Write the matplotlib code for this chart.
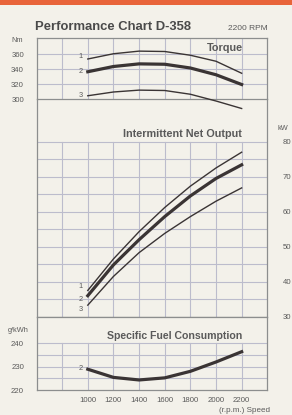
import matplotlib
matplotlib.use("Agg")
import matplotlib.pyplot as plt

# ---- data ----
rpm = [1000, 1200, 1400, 1600, 1800, 2000, 2200]
torque_1 = [354, 361, 364.5, 364, 359, 351, 335]
torque_2 = [337, 344, 347.5, 347, 342, 333, 320]
torque_3 = [305, 310, 312.5, 312, 307, 298, 288]
power_1 = [37.5, 46.5, 54.3, 61.2, 67.3, 72.5, 77.0]
power_2 = [36.0, 44.8, 52.0, 58.6, 64.5, 69.5, 73.4]
power_3 = [33.3, 41.5, 48.3, 53.8, 58.6, 63.0, 66.8]
fuel_2 = [228.9, 225.4, 224.3, 225.2, 228.0, 232.0, 236.4]
torque_ticks = [300, 320, 340, 360]
power_ticks = [30, 40, 50, 60, 70, 80]
fuel_ticks = [220, 230, 240]
rpm_ticks = [1000, 1200, 1400, 1600, 1800, 2000, 2200]

W, H = 292, 415
BG = "#f3f1ea"
GRID = "#bcbccc"
FRAME = "#8c8e8e"
CURVE = "#3a3434"
TXT = "#5a5a5a"
plt.rcParams['font.family'] = ['Liberation Sans', 'DejaVu Sans']

fig = plt.figure(figsize=(W / 100, H / 100), dpi=100, facecolor=BG)


def rect(x0, y0, x1, y1):
    return [x0 / W, 1 - y1 / H, (x1 - x0) / W, (y1 - y0) / H]


def ftext(x, y, s, **kw):
    fig.text(x / W, 1 - y / H, s, **kw)


# orange band
fig.patches.append(plt.Rectangle((0, 1 - 5 / H), 1, 5 / H, transform=fig.transFigure,
                                 facecolor="#e8643a", edgecolor="none"))

XL, XR = 36.5, 267.3
xlim = (600, 2400)
vgrid = list(range(800, 2400, 200))

ax_t = fig.add_axes(rect(XL, 38, XR, 99.5))
ax_p = fig.add_axes(rect(XL, 99.5, XR, 316.7))
ax_f = fig.add_axes(rect(XL, 316.7, XR, 390))

for ax in (ax_t, ax_p, ax_f):
    ax.set_facecolor("none")
    ax.set_xlim(*xlim)
    ax.set_xticks([])
    for s in ax.spines.values():
        s.set_color(FRAME)
        s.set_linewidth(0.9)
    ax.tick_params(length=0, labelsize=5.6, labelcolor=TXT, pad=9)

ax_t.set_ylim(300, 382)
ax_p.set_ylim(30, 92.06)
ax_f.set_ylim(220, 251.4)
ax_p.spines['top'].set_visible(False)
ax_f.spines['top'].set_visible(False)

# grids
for v in vgrid:
    ax_t.plot([v, v], [300, 382], color=GRID, lw=0.8, zorder=1)
    ax_p.plot([v, v], [30, 80], color=GRID, lw=0.8, zorder=1)
    ax_f.plot([v, v], [220, 240], color=GRID, lw=0.8, zorder=1)
for h in [320, 340, 360]:
    ax_t.axhline(h, color=GRID, lw=0.8, zorder=1)
for h in range(35, 85, 5):
    ax_p.axhline(h, color=GRID, lw=0.8, zorder=1)
ax_p.axhline(30, color=FRAME, lw=0.9, zorder=1)
for h in [225, 230, 235, 240]:
    ax_f.axhline(h, color=GRID, lw=0.8, zorder=1)

# ticks
ax_t.set_yticks(torque_ticks)
ax_p.yaxis.tick_right()
ax_p.set_yticks(power_ticks)
ax_p.tick_params(pad=11)
ax_f.set_yticks(fuel_ticks)
ax_f.set_xticks(rpm_ticks)
ax_f.tick_params(axis='x', pad=5)

# curves
ax_t.plot(rpm, torque_1, color=CURVE, lw=1.0, clip_on=False, zorder=3)
ax_t.plot(rpm, torque_2, color=CURVE, lw=2.3, clip_on=False, zorder=3)
ax_t.plot(rpm, torque_3, color=CURVE, lw=1.0, clip_on=False, zorder=3)
ax_p.plot(rpm, power_1, color=CURVE, lw=1.0, zorder=3)
ax_p.plot(rpm, power_2, color=CURVE, lw=2.3, zorder=3)
ax_p.plot(rpm, power_3, color=CURVE, lw=1.0, zorder=3)
ax_f.plot(rpm, fuel_2, color=CURVE, lw=2.3, zorder=3)

# curve number labels
lab = dict(fontsize=5.3, color=TXT, ha='center', va='center')
ax_t.text(945, torque_1[0] + 3, "1", **lab)
ax_t.text(945, torque_2[0], "2", **lab)
ax_t.text(945, torque_3[0], "3", **lab)
ax_p.text(945, power_1[0] + 1.0, "1", **lab)
ax_p.text(945, power_2[0] - 1.0, "2", **lab)
ax_p.text(945, power_3[0] - 1.3, "3", **lab)
ax_f.text(945, fuel_2[0] + 0.3, "2", **lab)

# titles and labels
ftext(35, 27, "Performance Chart D-358", fontsize=9.4, fontweight='bold', color="#4a4a4a",
      ha='left', va='center')
ftext(268, 28, "2200 RPM", fontsize=6, color=TXT, ha='right', va='center')
ftext(243, 48, "Torque", fontsize=7.8, fontweight='bold', color=TXT, ha='right', va='center')
ftext(242, 134, "Intermittent Net Output", fontsize=7.8, fontweight='bold', color=TXT,
      ha='right', va='center')
ftext(242, 336, "Specific Fuel Consumption", fontsize=7.6, fontweight='bold', color=TXT,
      ha='right', va='center')
ftext(17.5, 41, "Nm", fontsize=5.3, color=TXT, ha='center', va='center')
ftext(283, 128, "kW", fontsize=5.3, color=TXT, ha='center', va='center')
ftext(18, 331, "g/kWh", fontsize=5.3, color=TXT, ha='center', va='center')
ftext(270, 410, "(r.p.m.) Speed", fontsize=5.8, color=TXT, ha='right', va='center')

fig.savefig("out.png", dpi=100, facecolor=BG)
